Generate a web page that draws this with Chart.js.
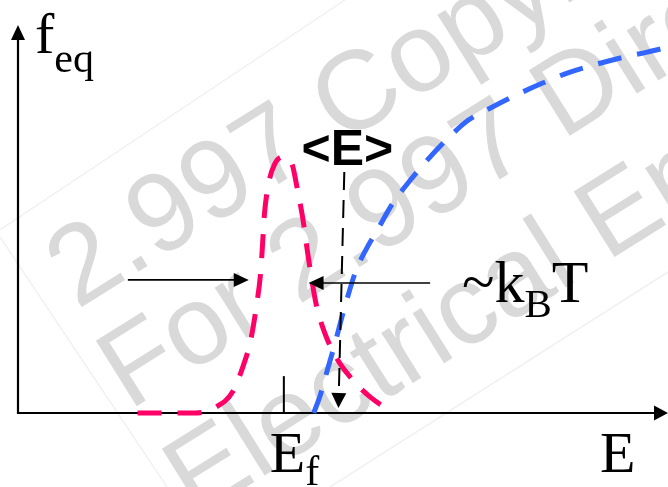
<!DOCTYPE html>
<html>
<head>
<meta charset="utf-8">
<script src="https://cdn.jsdelivr.net/npm/chart.js@4.4.0/dist/chart.umd.min.js"></script>
<style>
  html, body { margin: 0; padding: 0; background: #fff; }
  #wrap { width: 668px; height: 487px; position: relative; }
</style>
</head>
<body>
<div id="wrap"><canvas id="distChart"></canvas></div>
<script>
// energy in arbitrary units (0..10), occupancy f normalised so the axis top is 1
const peakE = [1.84, 2.27, 2.73, 3.04, 3.30, 3.47, 3.58, 3.67, 3.73, 3.76, 3.79, 3.86, 3.95,
  4.07, 4.21, 4.30, 4.38, 4.45, 4.52, 4.59, 4.72, 4.90, 5.15, 5.42, 5.78];
const peakF = [0, 0, 0, 0.015, 0.054, 0.124, 0.188, 0.278, 0.356, 0.428, 0.510, 0.595, 0.642,
  0.660, 0.644, 0.575, 0.503, 0.420, 0.343, 0.278, 0.206, 0.142, 0.085, 0.041, 0];

const riseE = [4.55, 4.65, 4.76, 4.87, 4.98, 5.08, 5.19, 5.35, 5.53, 5.76, 6.04, 6.27, 6.59,
  6.93, 7.27, 7.67, 8.08, 8.45, 8.86, 9.34, 9.68, 10];
const riseF = [0, 0.046, 0.111, 0.175, 0.245, 0.304, 0.363, 0.420, 0.472, 0.539, 0.601, 0.647,
  0.704, 0.755, 0.786, 0.820, 0.851, 0.876, 0.897, 0.918, 0.930, 0.943];

// markers
const fermiE = 4.09;
const fermiTickF = 0.095;
const meanLineE = [5.02, 4.93];   // top, bottom (arrow tip)
const meanLineF = [0.621, 0.013];
const widthLeftE = [1.69, 3.55];  // tail, tip
const widthRightE = [6.34, 4.47];
const widthF = [0.343, 0.335];

const watermark = [
  ['2.997 Copyright', 77, 310],
  ['For 2.997 Direct', 129, 411],
  ['Electrical Energy', 195, 519]
];

const toPoints = (xs, ys) => xs.map((x, i) => ({ x: x, y: ys[i] }));

function arrowHead(ctx, x, y, angle, len, half) {
  ctx.save();
  ctx.translate(x, y);
  ctx.rotate(angle);
  ctx.beginPath();
  ctx.moveTo(0, 0);
  ctx.lineTo(-len, -half);
  ctx.lineTo(-len, half);
  ctx.closePath();
  ctx.fill();
  ctx.restore();
}

function sub(ctx, main, small, x, y, size, subSize, drop) {
  ctx.font = size + 'px "Liberation Serif"';
  ctx.fillText(main, x, y);
  const w = ctx.measureText(main).width;
  ctx.font = subSize + 'px "Liberation Serif"';
  ctx.fillText(small, x + w, y + drop);
  return x + w + ctx.measureText(small).width;
}

const sketch = {
  id: 'sketch',
  beforeDatasetsDraw(chart) {
    const { ctx, chartArea: a } = chart;
    ctx.save();

    // watermark frame + text
    ctx.strokeStyle = '#f1f1f1';
    ctx.lineWidth = 1.5;
    [[0, 230, 345, 0], [0, 237, 167, 487], [330, 487, 668, 272]].forEach(l => {
      ctx.beginPath();
      ctx.moveTo(l[0], l[1]);
      ctx.lineTo(l[2], l[3]);
      ctx.stroke();
    });
    ctx.fillStyle = '#d9d9d9';
    ctx.font = '112px "Liberation Sans"';
    watermark.forEach(([t, x, y]) => {
      ctx.save();
      ctx.translate(x, y);
      ctx.rotate(-32 * Math.PI / 180);
      ctx.fillText(t, 0, 0);
      ctx.restore();
    });

    // axes with arrow heads
    ctx.strokeStyle = '#000';
    ctx.fillStyle = '#000';
    ctx.lineWidth = 2.2;
    ctx.beginPath();
    ctx.moveTo(a.left, a.top + 10);
    ctx.lineTo(a.left, a.bottom);
    ctx.lineTo(a.right - 10, a.bottom);
    ctx.stroke();
    arrowHead(ctx, a.left, a.top, -Math.PI / 2, 15, 7);
    arrowHead(ctx, a.right, a.bottom, 0, 14, 7.5);
    ctx.restore();
  },
  afterDatasetsDraw(chart) {
    const { ctx, chartArea: a, scales: { x, y } } = chart;
    ctx.save();
    ctx.fillStyle = '#000';
    ctx.strokeStyle = '#000';

    // Fermi level tick
    ctx.lineWidth = 2;
    const xf = x.getPixelForValue(fermiE);
    ctx.beginPath();
    ctx.moveTo(xf, y.getPixelForValue(0));
    ctx.lineTo(xf, y.getPixelForValue(fermiTickF));
    ctx.stroke();

    // mean energy dashed pointer
    const mx0 = x.getPixelForValue(meanLineE[0]), my0 = y.getPixelForValue(meanLineF[0]);
    const mx1 = x.getPixelForValue(meanLineE[1]), my1 = y.getPixelForValue(meanLineF[1]);
    const ang = Math.atan2(my1 - my0, mx1 - mx0);
    ctx.setLineDash([18, 10]);
    ctx.beginPath();
    ctx.moveTo(mx0, my0);
    ctx.lineTo(mx1 - 14 * Math.cos(ang), my1 - 14 * Math.sin(ang));
    ctx.stroke();
    ctx.setLineDash([]);
    arrowHead(ctx, mx1, my1, ang, 15, 7.5);

    // width arrows
    ctx.lineWidth = 1.7;
    [[widthLeftE, widthF[0]], [widthRightE, widthF[1]]].forEach(([es, f]) => {
      const xt = x.getPixelForValue(es[0]), xh = x.getPixelForValue(es[1]);
      const yy = y.getPixelForValue(f);
      const dir = xh > xt ? 1 : -1;
      ctx.beginPath();
      ctx.moveTo(xt, yy);
      ctx.lineTo(xh - dir * 12, yy);
      ctx.stroke();
      arrowHead(ctx, xh, yy, dir > 0 ? 0 : Math.PI, 15, 7);
    });

    // labels
    ctx.textBaseline = 'alphabetic';
    sub(ctx, 'f', 'eq', a.left + 17, 53, 58, 42, 19);
    ctx.font = '58px "Liberation Serif"';
    ctx.fillText('E', 600, 472);
    sub(ctx, 'E', 'f', xf - 14, 472, 58, 42, 13);

    let cx = sub(ctx, '~k', 'B', 462, 302, 60, 41, 15);
    ctx.font = '60px "Liberation Serif"';
    ctx.fillText('T', cx, 302);

    ctx.font = 'bold 50px "Liberation Sans"';
    ctx.textAlign = 'center';
    ctx.fillText('<E>', mx0 + 3, 165);
    ctx.restore();
  }
};

const lineStyle = {
  showLine: true,
  pointRadius: 0,
  borderWidth: 5,
  borderDash: [24, 16],
  borderCapStyle: 'butt',
  cubicInterpolationMode: 'monotone',
  fill: false,
  clip: false
};

new Chart(document.getElementById('distChart'), {
  type: 'scatter',
  data: {
    datasets: [
      Object.assign({ label: 'peak', data: toPoints(peakE, peakF), borderColor: '#ff0066' }, lineStyle),
      Object.assign({ label: 'rise', data: toPoints(riseE, riseF), borderColor: '#3366ff' }, lineStyle)
    ]
  },
  options: {
    responsive: true,
    maintainAspectRatio: false,
    animation: false,
    events: [],
    layout: { padding: { left: 18, right: 0, top: 25, bottom: 74 } },
    plugins: { legend: { display: false }, tooltip: { enabled: false } },
    scales: {
      x: { type: 'linear', min: 0, max: 10, display: false },
      y: { type: 'linear', min: 0, max: 1, display: false }
    }
  },
  plugins: [sketch]
});
</script>
</body>
</html>
